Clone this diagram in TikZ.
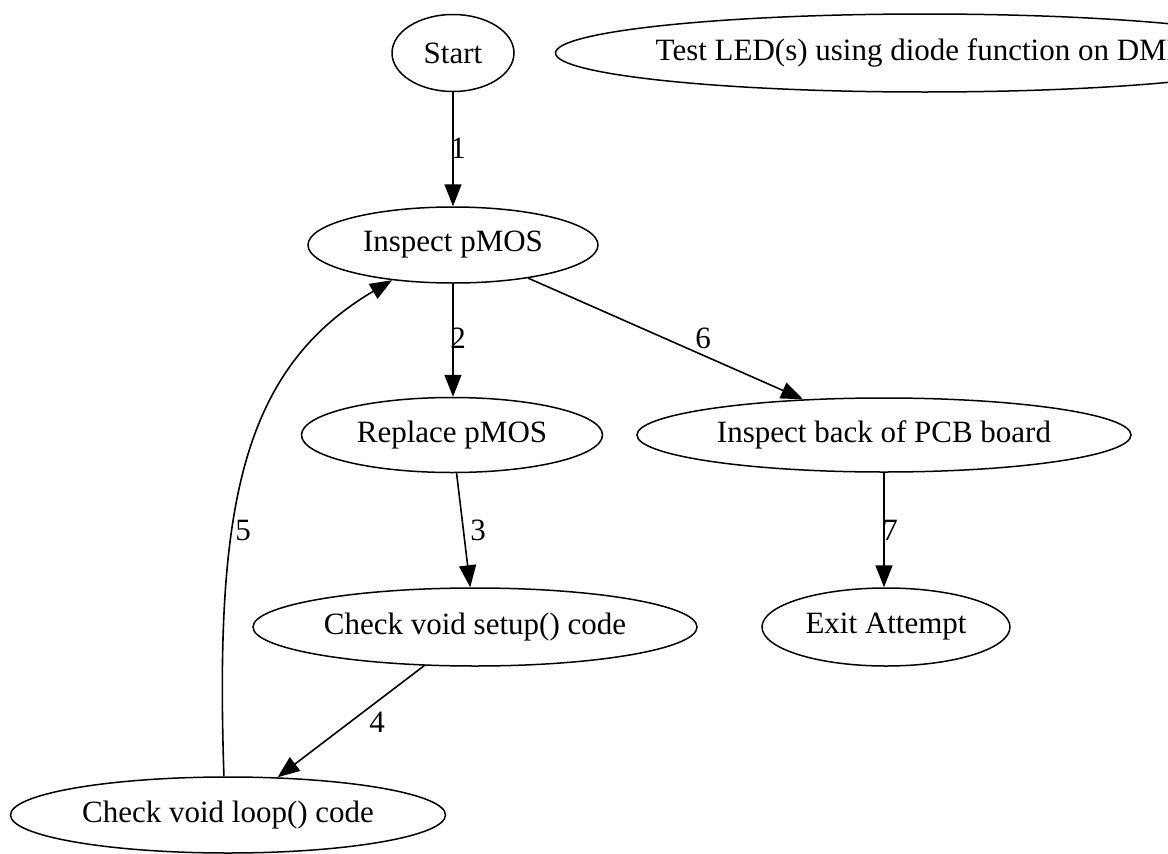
\documentclass[tikz,border=0pt]{standalone}
\usepackage{fontspec}
\setmainfont{Liberation Serif}
\usetikzlibrary{shapes.geometric,arrows.meta}
\begin{document}
\begin{tikzpicture}[x=1pt,y=-1pt,
  state/.style={ellipse, draw, line width=1.5pt, inner sep=0pt,
    font=\fontsize{31}{36}\selectfont},
  edge/.style={line width=1.6pt, -{Triangle[length=22pt,width=17pt]}},
  lbl/.style={inner sep=0pt, font=\fontsize{31}{36}\selectfont}]
  \useasboundingbox (0,0) rectangle (1168,854);
  \fill[white] (0,0) rectangle (1168,854);
  \clip (0,0) rectangle (1168,854);

  % states
  \node[state, minimum width=122pt, minimum height=77pt] (start) at (453,53) {Start};
  \node[state, inner xsep=-8pt, minimum height=78pt] (test) at (925,53)
    {Test LED(s) using diode function on DMM};
  \node[state, minimum width=290pt, minimum height=76pt] (ip) at (453,245) {Inspect pMOS};
  \node[state, minimum width=301pt, minimum height=75pt] (rp) at (452,435) {Replace pMOS};
  \node[state, minimum width=494pt, minimum height=74pt] (pcb) at (884,435) {Inspect back of PCB board};
  \node[state, minimum width=444pt, minimum height=78pt] (su) at (475,627) {Check void setup() code};
  \node[state, minimum width=248pt, minimum height=78pt] (ex) at (886,627) {Exit Attempt};
  \node[state, minimum width=435pt, minimum height=76pt] (lp) at (228,815) {Check void loop() code};

  % transitions
  \draw[edge] (start) -- (ip);
  \draw[edge] (ip.south) -- (ip.south |- rp.north);
  \draw[edge] (ip) -- (pcb);
  \draw[edge] (rp) -- (su);
  \draw[edge] (su) -- (lp);
  \draw[edge] (lp.96) .. controls (215,510) and (240,370) .. (ip.210);
  \draw[edge] (pcb.south) -- (pcb.south |- ex.north);

  % transition numbers
  \node[lbl] (n1) at (458,148) {1};
  \node[lbl] (n2) at (458,338) {2};
  \node[lbl] (n6) at (703,338) {6};
  \node[lbl] (n3) at (478,530) {3};
  \node[lbl] (n4) at (377,722) {4};
  \node[lbl] (n5) at (243,530) {5};
  \node[lbl] (n7) at (890,530) {7};
\end{tikzpicture}
\end{document}
